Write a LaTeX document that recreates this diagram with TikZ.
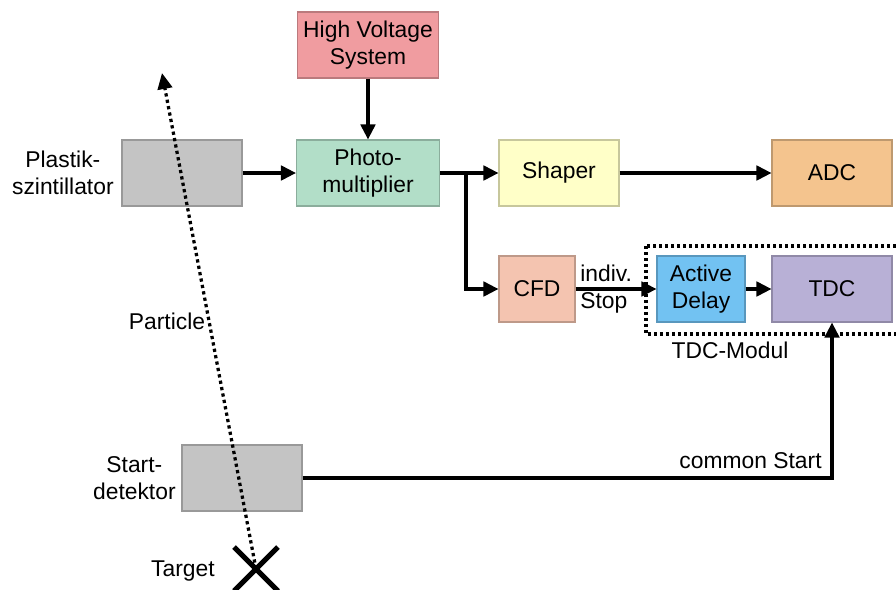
\documentclass[tikz,border=0pt]{standalone}
\usepackage{fontspec}
\setmainfont{Liberation Sans}
\usetikzlibrary{arrows.meta,shapes.misc}

\definecolor{hvred}{HTML}{F09CA0}
\definecolor{pmgreen}{HTML}{B2DEC8}
\definecolor{shyellow}{HTML}{FFFFC8}
\definecolor{adcorange}{HTML}{F4C48E}
\definecolor{cfdpink}{HTML}{F4C4B0}
\definecolor{delayblue}{HTML}{72C2F2}
\definecolor{tdcviolet}{HTML}{B8B0D6}
\definecolor{detgray}{HTML}{C4C4C4}

\begin{document}
\begin{tikzpicture}[x=0.02cm, y=-0.02cm,
  font=\fontsize{13}{15.2}\selectfont,
  box/.style={draw=#1!78!black, fill=#1, line width=0.6pt, minimum height=1.32cm, align=center, inner sep=0pt},
  wire/.style={line width=0.065cm, -{Triangle[length=0.3cm,width=0.29cm]}},
  particle/.style={line width=0.065cm, dash pattern=on 0.065cm off 0.065cm, -{Triangle[length=0.32cm,width=0.29cm]}},
  lbl/.style={align=center, inner sep=0pt}]
\useasboundingbox (0,0) rectangle (896,589);

% boxes
\node[box=hvred, minimum width=2.82cm] (hv) at (368,45) {High Voltage\\System};
\node[box=detgray, minimum width=2.4cm] (plastik) at (182,173) {};
\node[box=pmgreen, minimum width=2.86cm] (pm) at (368,173) {Photo-\\multiplier};
\node[box=shyellow, minimum width=2.4cm] (shaper) at (559,173) {Shaper};
\node[box=adcorange, minimum width=2.4cm] (adc) at (832,173) {ADC};
\node[box=cfdpink, minimum width=1.52cm] (cfd) at (537,289) {CFD};
\node[box=delayblue, minimum width=1.76cm] (delay) at (701,289) {Active\\Delay};
\node[box=tdcviolet, minimum width=2.4cm] (tdc) at (832,289) {TDC};
\node[box=detgray, minimum width=2.4cm] (start) at (242,478) {};

% TDC module frame
\draw[line width=0.065cm, dash pattern=on 0.065cm off 0.055cm] (646,246) rectangle (905,334);
\node[lbl] (modullbl) at (730,350) {TDC-Modul};

% labels
\node[lbl, anchor=east] (plastiklbl) at (114,173) {Plastik-\\szintillator};
\node[lbl, anchor=east] (startlbl) at (176,478) {Start-\\detektor};
\node[lbl, anchor=east] (targetlbl) at (215,571) {Target};
\node[lbl] (partlbl) at (167,321) {Particle};
\node[lbl, align=left, anchor=west] (stoplbl) at (580,289) {indiv.\\Stop};
\node[lbl, anchor=base east] (commonlbl) at (822,468) {common Start};

% signal lines
\coordinate (split) at (466,173);
\draw[wire] (hv) -- (pm);
\draw[wire] (plastik) -- (pm);
\draw[wire] (pm) -- (shaper);
\draw[wire] (split) |- (cfd);
\draw[wire] (shaper) -- (adc);
\draw[wire] (cfd) -- (delay);
\draw[wire] (delay) -- (tdc);
\draw[wire] (start) -| (tdc);

% particle track
\node[cross out, draw, line width=0.1cm, minimum size=0.78cm, inner sep=0pt] (target) at (256,569) {};
\coordinate (ptip) at (162,73);
\draw[particle] (target.center) -- (ptip);
\end{tikzpicture}
\end{document}
